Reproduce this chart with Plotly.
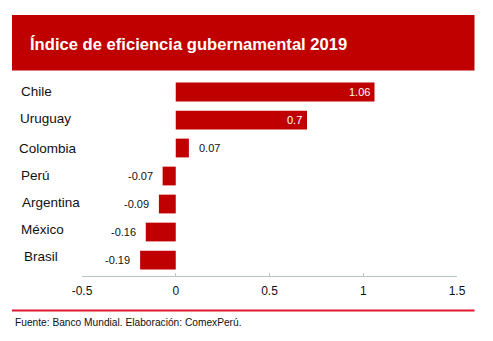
import plotly.graph_objects as go

# Government effectiveness index 2019, top to bottom
countries = ["Chile", "Uruguay", "Colombia", "Perú", "Argentina", "México", "Brasil"]
values = [1.06, 0.7, 0.07, -0.07, -0.09, -0.16, -0.19]
value_labels = ["1.06", "0.7", "0.07", "-0.07", "-0.09", "-0.16", "-0.19"]
label_inside = [True, True, False, False, False, False, False]
# small nudges of the country names (px)
name_nudge_x = [0.5, -0.5, -1.5, 1, 2, 1, 3.5]
name_nudge_y = [1, 2, 0, 1, 1.5, 3, 3.5]

tick_vals = [-0.5, 0, 0.5, 1, 1.5]
tick_text = ["-0.5", "0", "0.5", "1", "1.5"]

title_text = "Índice de eficiencia gubernamental 2019"
source_text = "Fuente: Banco Mundial. Elaboración: ComexPerú."

W, H = 493, 341
ML, MR, MT, MB = 82, 36, 78, 65
PW, PH = W - ML - MR, H - MT - MB

FONT = "Arial, Liberation Sans, Helvetica, sans-serif"
BAR_RED = "#C00000"


def px_x(px):
    return (px - ML) / PW


def px_y(py):
    return (H - MB - py) / PH


fig = go.Figure(
    go.Bar(
        x=values,
        y=countries,
        orientation="h",
        marker=dict(color=BAR_RED, line=dict(width=0)),
        width=0.67,
        hoverinfo="skip",
    )
)

annotations = []
for c, v, t, ins, dx, dy in zip(countries, values, value_labels, label_inside,
                                name_nudge_x, name_nudge_y):
    # country name on the left margin
    annotations.append(dict(
        x=px_x(18 + dx), xref="paper", y=c, yref="y",
        text=c, showarrow=False, xanchor="left", yanchor="middle",
        yshift=dy,
        font=dict(family=FONT, size=13.5, color="#111111"),
    ))
    # value label
    if ins:
        annotations.append(dict(
            x=v, xref="x", y=c, yref="y", text=t, showarrow=False,
            xanchor="right", yanchor="middle", xshift=-3,
            font=dict(family=FONT, size=11, color="#FFFFFF"),
        ))
    else:
        annotations.append(dict(
            x=v, xref="x", y=c, yref="y", text=t, showarrow=False,
            xanchor="left" if v >= 0 else "right", yanchor="middle",
            xshift=8 if v >= 0 else -8,
            font=dict(family=FONT, size=11, color="#111111"),
        ))

annotations.append(dict(
    x=px_x(28), xref="paper", y=px_y(44.5), yref="paper",
    text=title_text, showarrow=False, xanchor="left", yanchor="middle",
    font=dict(family=FONT, size=16.6, color="#FFFFFF", weight="bold"),
))
annotations.append(dict(
    x=px_x(13), xref="paper", y=px_y(322), yref="paper",
    text=source_text, showarrow=False, xanchor="left", yanchor="middle",
    font=dict(family=FONT, size=10.2, color="#111111"),
))

shapes = [
    dict(type="rect", xref="paper", yref="paper",
         x0=px_x(12), x1=px_x(474.5), y0=px_y(70.5), y1=px_y(15),
         fillcolor=BAR_RED, line=dict(width=0), layer="below"),
    dict(type="line", xref="paper", yref="paper",
         x0=px_x(12), x1=px_x(474.5), y0=px_y(310.5), y1=px_y(310.5),
         line=dict(color="#E2162F", width=2)),
]

fig.update_layout(
    width=W, height=H,
    margin=dict(l=ML, r=MR, t=MT, b=MB, pad=0),
    paper_bgcolor="#FFFFFF", plot_bgcolor="#FFFFFF",
    showlegend=False,
    annotations=annotations,
    shapes=shapes,
    font=dict(family=FONT),
    xaxis=dict(
        range=[-0.5, 1.5], tickvals=tick_vals, ticktext=tick_text,
        showgrid=False, zeroline=False,
        showline=True, linecolor="#B9C6C4", linewidth=1,
        ticks="inside", ticklen=3, tickcolor="#B9C6C4", tickwidth=1,
        ticklabelstandoff=4,
        tickfont=dict(family=FONT, size=12, color="#111111"),
        fixedrange=True,
    ),
    yaxis=dict(
        categoryorder="array", categoryarray=countries[::-1],
        range=[-0.57, 6.5], showticklabels=False, showgrid=False,
        zeroline=False, showline=False, ticks="", fixedrange=True,
    ),
)

fig.write_html("out.html", config={"displayModeBar": False})
